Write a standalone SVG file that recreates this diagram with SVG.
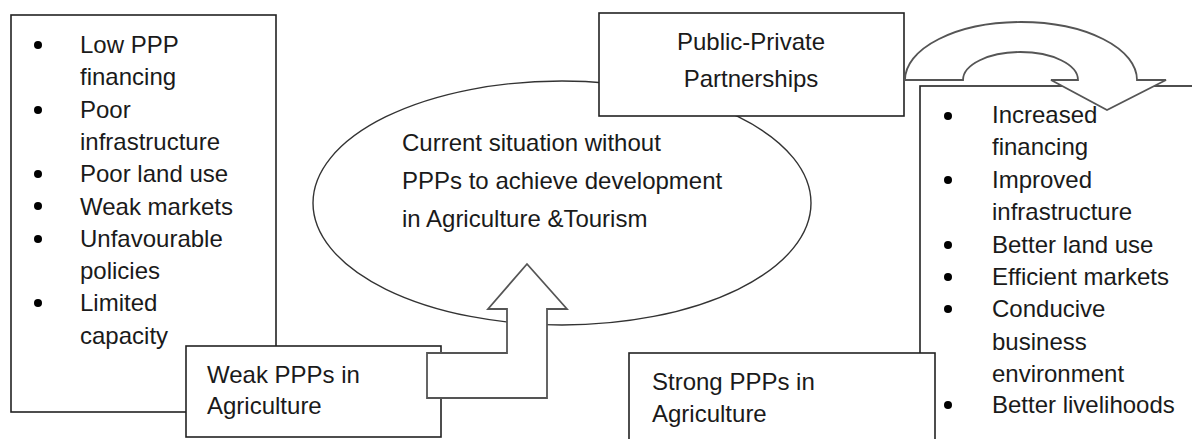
<svg xmlns="http://www.w3.org/2000/svg" width="1192" height="439" viewBox="0 0 1192 439">
<style>
  .box { fill: #ffffff; stroke: #222222; stroke-width: 1.6; }
  .ell { fill: #ffffff; stroke: #333333; stroke-width: 1.4; }
  .blk { fill: #ffffff; stroke: #555555; stroke-width: 1.8; stroke-linejoin: miter; }
  .t { font-family: "Liberation Sans", Arial, sans-serif; font-size: 24px; fill: #1a1a1a; }
  .mid { text-anchor: middle; }
  .dot { fill: #000000; }
</style>
<rect x="0" y="0" width="1192" height="439" fill="#ffffff"/>

<g id="current-situation">
  <ellipse class="ell" cx="562" cy="203" rx="249" ry="122"/>
  <text class="t" x="402" y="151">Current situation without</text>
  <text class="t" x="402" y="189">PPPs to achieve development</text>
  <text class="t" x="402" y="227">in Agriculture &amp;Tourism</text>
</g>

<g id="weak-list">
  <rect class="box" x="11" y="15" width="265" height="397"/>
  <circle class="dot" cx="38" cy="45" r="4"/>
  <circle class="dot" cx="38" cy="110" r="4"/>
  <circle class="dot" cx="38" cy="174" r="4"/>
  <circle class="dot" cx="38" cy="206" r="4"/>
  <circle class="dot" cx="38" cy="239" r="4"/>
  <circle class="dot" cx="38" cy="303" r="4"/>
  <text class="t" x="80" y="53">Low PPP</text>
  <text class="t" x="80" y="85">financing</text>
  <text class="t" x="80" y="118">Poor</text>
  <text class="t" x="80" y="150">infrastructure</text>
  <text class="t" x="80" y="182">Poor land use</text>
  <text class="t" x="80" y="215">Weak markets</text>
  <text class="t" x="80" y="247">Unfavourable</text>
  <text class="t" x="80" y="279">policies</text>
  <text class="t" x="80" y="311">Limited</text>
  <text class="t" x="80" y="344">capacity</text>
</g>

<g id="weak-ppps">
  <rect class="box" x="186" y="346" width="255" height="91"/>
  <text class="t" x="207" y="383">Weak PPPs in</text>
  <text class="t" x="207" y="414">Agriculture</text>
</g>

<g id="ppp">
  <rect class="box" x="599" y="13" width="305" height="103"/>
  <text class="t mid" x="751" y="50">Public-Private</text>
  <text class="t mid" x="751" y="87">Partnerships</text>
</g>

<g id="strong-list">
  <rect class="box" x="920" y="86" width="290" height="370"/>
  <circle class="dot" cx="948" cy="116" r="4"/>
  <circle class="dot" cx="948" cy="180" r="4"/>
  <circle class="dot" cx="948" cy="245" r="4"/>
  <circle class="dot" cx="948" cy="277" r="4"/>
  <circle class="dot" cx="948" cy="309" r="4"/>
  <circle class="dot" cx="948" cy="405" r="4"/>
  <text class="t" x="992" y="123">Increased</text>
  <text class="t" x="992" y="155">financing</text>
  <text class="t" x="992" y="188">Improved</text>
  <text class="t" x="992" y="220">infrastructure</text>
  <text class="t" x="992" y="253">Better land use</text>
  <text class="t" x="992" y="285">Efficient markets</text>
  <text class="t" x="992" y="317">Conducive</text>
  <text class="t" x="992" y="350">business</text>
  <text class="t" x="992" y="382">environment</text>
  <text class="t" x="992" y="413">Better livelihoods</text>
</g>

<g id="strong-ppps">
  <rect class="box" x="629" y="353" width="306" height="100"/>
  <text class="t" x="652" y="390">Strong PPPs in</text>
  <text class="t" x="652" y="422">Agriculture</text>
</g>

<g id="connectors">
  <path class="blk" d="M527,264 L567,309 L547,309 L547,398 L427,398 L427,353 L507,353 L507,309 L488,309 Z"/>
  <path class="blk" d="M905,80 A116,58 0 0 1 1137,80 L1166,80 L1107,110 L1051,80 L1078,80 A57.5,28 0 0 0 963,80 Z"/>
</g>
</svg>
